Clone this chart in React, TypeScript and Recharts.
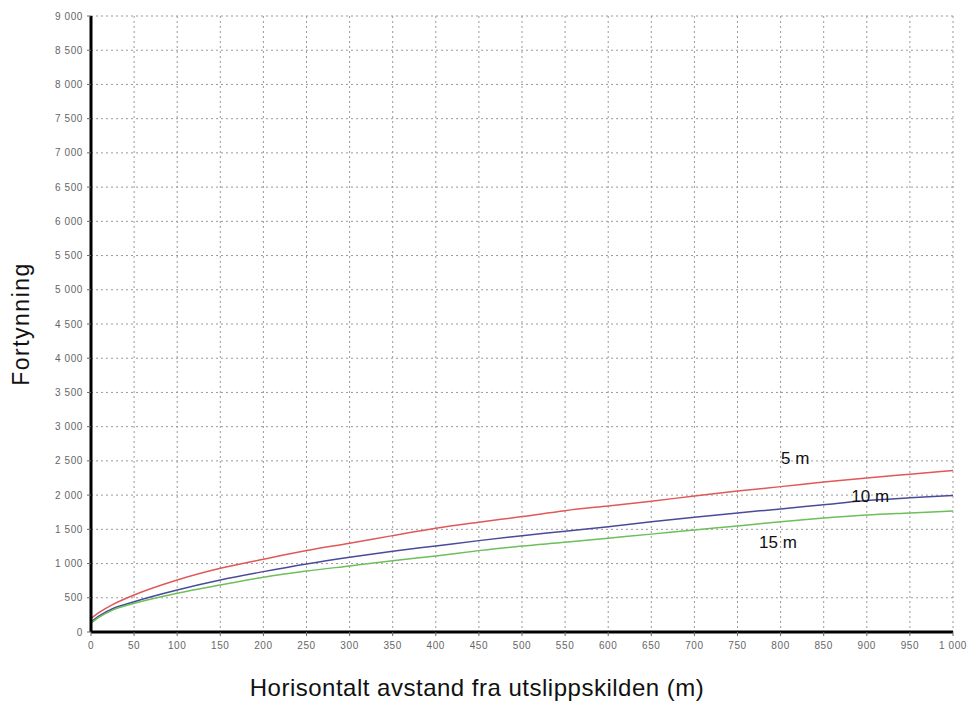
import React from "react";
import {
  LineChart,
  Line,
  XAxis,
  YAxis,
  CartesianGrid,
  ReferenceDot,
} from "recharts";

const FONT = "'Liberation Sans', Arial, sans-serif";

// distances (m)
const distances = [0, 10, 25, 50, 100, 150, 200, 250, 300, 350, 400, 450, 500, 550, 600, 650, 700, 750, 800, 850, 900, 950, 1000];

// dilution per depth
const dil5m = [200, 290, 400, 541, 760, 931, 1063, 1190, 1297, 1408, 1516, 1604, 1686, 1773, 1842, 1910, 1988, 2060, 2124, 2190, 2251, 2305, 2358];
const dil10m = [150, 240, 340, 443, 614, 760, 882, 994, 1092, 1180, 1257, 1335, 1408, 1472, 1539, 1610, 1677, 1740, 1798, 1860, 1920, 1960, 1993];
const dil15m = [130, 220, 320, 419, 566, 687, 800, 890, 965, 1040, 1111, 1189, 1257, 1310, 1370, 1430, 1491, 1550, 1612, 1665, 1710, 1740, 1769];

const xTicks = [0, 50, 100, 150, 200, 250, 300, 350, 400, 450, 500, 550, 600, 650, 700, 750, 800, 850, 900, 950, 1000];
const yTicks = [0, 500, 1000, 1500, 2000, 2500, 3000, 3500, 4000, 4500, 5000, 5500, 6000, 6500, 7000, 7500, 8000, 8500, 9000];

// series labels placed in the plot
const seriesLabels = [
  { text: "5 m", x: 817, y: 2544 },
  { text: "10 m", x: 904, y: 1988 },
  { text: "15 m", x: 797, y: 1316 },
];

const rows = distances.map((d, i) => ({
  d,
  a: dil5m[i],
  b: dil10m[i],
  c: dil15m[i],
}));

const fmt = (v: number) =>
  v >= 1000 ? `${Math.floor(v / 1000)} ${String(v % 1000).padStart(3, "0")}` : String(v);

const TICK = { fontSize: 10, fill: "#666", fontFamily: FONT, letterSpacing: 0.6 };

export default function App() {
  return (
    <div style={{ position: "absolute", left: 0, top: 0, background: "#fff" }}>
      <LineChart
        width={967}
        height={704}
        data={rows}
        margin={{ top: 16, right: 14, left: 31, bottom: 42 }}
      >
        <CartesianGrid stroke="#999" strokeDasharray="2 3" />
        <XAxis
          dataKey="d"
          type="number"
          domain={[0, 1000]}
          ticks={xTicks}
          tickFormatter={fmt}
          interval={0}
          height={30}
          tick={TICK}
          tickSize={4}
          tickMargin={6}
          tickLine={{ stroke: "#666" }}
          axisLine={{ stroke: "#000", strokeWidth: 3 }}
          label={{
            value: "Horisontalt avstand fra utslippskilden (m)",
            position: "insideBottom",
            offset: -34,
            dx: -45,
            style: { fontSize: 24, fill: "#111", fontFamily: FONT, letterSpacing: 0.5 },
          }}
        />
        <YAxis
          type="number"
          domain={[0, 9000]}
          ticks={yTicks}
          tickFormatter={fmt}
          interval={0}
          width={60}
          tick={TICK}
          tickSize={4}
          tickMargin={4}
          tickLine={{ stroke: "#666" }}
          axisLine={{ stroke: "#000", strokeWidth: 3 }}
          label={{
            value: "Fortynning",
            angle: -90,
            position: "insideLeft",
            offset: -10,
            style: { fontSize: 23, fill: "#111", fontFamily: FONT, textAnchor: "middle", letterSpacing: 1.5 },
          }}
        />
        <Line dataKey="a" type="monotone" stroke="#e05858" strokeWidth={1.5} dot={false} isAnimationActive={false} />
        <Line dataKey="b" type="monotone" stroke="#4a4a9a" strokeWidth={1.5} dot={false} isAnimationActive={false} />
        <Line dataKey="c" type="monotone" stroke="#6cbf5a" strokeWidth={1.5} dot={false} isAnimationActive={false} />
        {seriesLabels.map((l) => (
          <ReferenceDot
            key={l.text}
            x={l.x}
            y={l.y}
            r={0}
            stroke="none"
            label={{
              value: l.text,
              position: "center",
              fontSize: 17,
              fontFamily: FONT,
              fill: "#111",
            }}
          />
        ))}
      </LineChart>
    </div>
  );
}
